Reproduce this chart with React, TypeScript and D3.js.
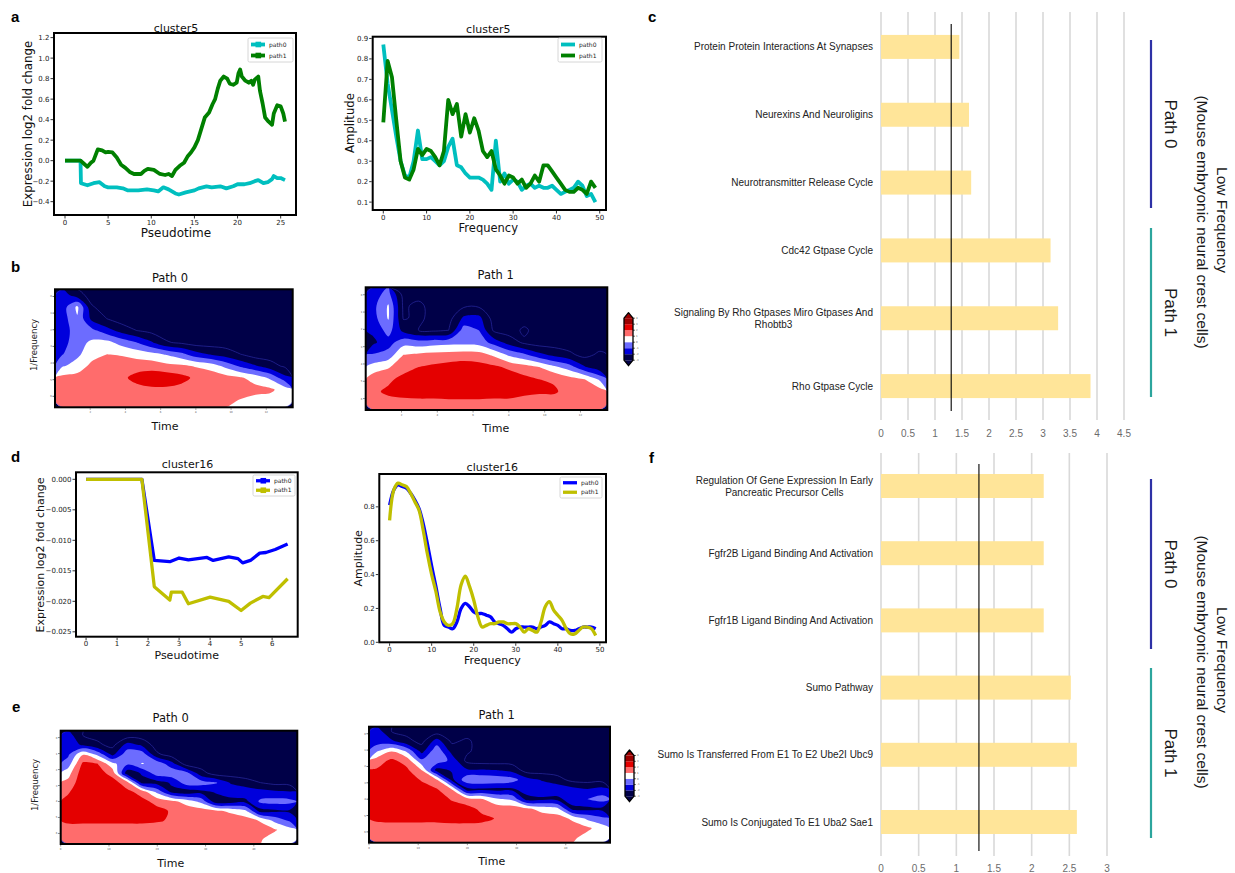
import React, { useEffect, useRef } from 'react';
import * as d3 from 'd3';

// ---------------- Panel a : cluster5 ----------------
const aTimePath0 = [0, 1, 1.8, 1.85, 2.6, 3.3, 4.0, 4.6, 5.0, 6.0, 6.7, 7.3, 8.5, 9.5, 10.3, 10.8, 11.4, 12.0, 12.4, 12.8, 13.2, 14.0, 15.0, 15.5, 16.4, 17.0, 18.0, 18.7, 19.5, 20.0, 20.8, 21.4, 22.0, 22.4, 23.0, 23.5, 24.0, 24.2, 24.6, 25.0, 25.5];
const aExprPath0 = [0, 0, 0, -0.22, -0.24, -0.22, -0.21, -0.25, -0.26, -0.26, -0.27, -0.29, -0.29, -0.28, -0.29, -0.3, -0.26, -0.28, -0.3, -0.32, -0.33, -0.31, -0.29, -0.27, -0.25, -0.26, -0.25, -0.27, -0.25, -0.23, -0.23, -0.22, -0.2, -0.19, -0.22, -0.21, -0.18, -0.15, -0.17, -0.17, -0.19];
const aTimePath1 = [0, 0.5, 1, 1.5, 1.8, 2.2, 2.6, 3.0, 3.3, 3.8, 4.3, 4.7, 5.0, 5.5, 6.0, 6.5, 7.0, 7.5, 8.0, 8.8, 9.2, 9.6, 10.3, 11.0, 11.6, 12.0, 12.4, 12.8, 13.3, 13.8, 14.2, 14.6, 15.0, 15.4, 15.8, 16.2, 16.7, 17.1, 17.4, 17.7, 18.0, 18.4, 18.8, 19.1, 19.5, 19.9, 20.1, 20.3, 20.5, 20.9, 21.3, 21.6, 21.8, 22.0, 22.4, 22.6, 22.9, 23.2, 23.6, 24.0, 24.2, 24.6, 25.0, 25.3, 25.5];
const aExprPath1 = [0, 0, 0, 0, 0, -0.03, -0.06, -0.02, 0.0, 0.11, 0.1, 0.08, 0.085, 0.08, 0.03, -0.04, -0.07, -0.11, -0.13, -0.13, -0.1, -0.08, -0.09, -0.13, -0.14, -0.13, -0.15, -0.09, -0.05, -0.02, 0.04, 0.08, 0.13, 0.2, 0.31, 0.42, 0.47, 0.55, 0.6, 0.7, 0.78, 0.82, 0.8, 0.75, 0.74, 0.76, 0.85, 0.89, 0.82, 0.78, 0.76, 0.78, 0.74, 0.79, 0.82, 0.68, 0.56, 0.42, 0.38, 0.35, 0.46, 0.54, 0.53, 0.46, 0.38];
const freqBins = d3.range(0, 50);
const aAmpPath0 = [0.87, 0.68, 0.55, 0.42, 0.3, 0.23, 0.22, 0.3, 0.45, 0.31, 0.31, 0.32, 0.3, 0.28, 0.3, 0.37, 0.41, 0.28, 0.27, 0.24, 0.22, 0.22, 0.22, 0.21, 0.19, 0.16, 0.4, 0.2, 0.24, 0.19, 0.21, 0.2, 0.16, 0.18, 0.19, 0.17, 0.18, 0.17, 0.17, 0.18, 0.16, 0.14, 0.15, 0.16, 0.17, 0.2, 0.18, 0.13, 0.14, 0.1];
const aAmpPath1 = [0.49, 0.79, 0.71, 0.5, 0.3, 0.22, 0.21, 0.26, 0.36, 0.33, 0.36, 0.35, 0.32, 0.28, 0.35, 0.6, 0.53, 0.58, 0.42, 0.53, 0.44, 0.51, 0.45, 0.35, 0.32, 0.35, 0.26, 0.23, 0.19, 0.23, 0.22, 0.19, 0.21, 0.17, 0.19, 0.23, 0.2, 0.28, 0.28, 0.25, 0.22, 0.19, 0.16, 0.15, 0.15, 0.17, 0.16, 0.14, 0.2, 0.17];

// ---------------- Panel d : cluster16 ----------------
const dTimePath0 = [0, 0.3, 0.6, 0.9, 1.2, 1.5, 1.8, 2.2, 2.7, 3.0, 3.3, 3.9, 4.1, 4.6, 4.9, 5.05, 5.3, 5.6, 5.8, 6.1, 6.5];
const dExprPath0 = [0, 0, 0, 0, 0, 0, 0, -0.0133, -0.0135, -0.0129, -0.0132, -0.0128, -0.0133, -0.0127, -0.013, -0.0137, -0.0133, -0.0121, -0.012, -0.0115, -0.0106];
const dTimePath1 = [0, 0.3, 0.6, 0.9, 1.2, 1.5, 1.8, 2.2, 2.7, 2.75, 3.1, 3.3, 4.0, 4.6, 5.0, 5.3, 5.7, 5.9, 6.5];
const dExprPath1 = [0, 0, 0, 0, 0, 0, 0, -0.0176, -0.0198, -0.0185, -0.0185, -0.0204, -0.0193, -0.02, -0.0215, -0.0203, -0.0192, -0.0194, -0.0163];
const dAmpPath0 = [0.81, 0.9, 0.93, 0.92, 0.91, 0.88, 0.84, 0.79, 0.7, 0.58, 0.45, 0.33, 0.2, 0.1, 0.09, 0.08, 0.12, 0.2, 0.23, 0.21, 0.18, 0.17, 0.17, 0.16, 0.15, 0.12, 0.11, 0.1, 0.08, 0.06, 0.08, 0.09, 0.09, 0.09, 0.09, 0.08, 0.09, 0.1, 0.12, 0.11, 0.1, 0.08, 0.08, 0.07, 0.07, 0.08, 0.09, 0.09, 0.09, 0.08];
const dAmpPath1 = [0.72, 0.9, 0.94, 0.93, 0.92, 0.88, 0.83, 0.78, 0.66, 0.52, 0.4, 0.3, 0.18, 0.12, 0.1, 0.11, 0.2, 0.34, 0.39, 0.33, 0.25, 0.15, 0.09, 0.1, 0.11, 0.11, 0.12, 0.12, 0.11, 0.11, 0.11, 0.09, 0.06, 0.08, 0.07, 0.06, 0.12, 0.21, 0.24, 0.19, 0.16, 0.13, 0.08, 0.05, 0.05, 0.07, 0.09, 0.09, 0.08, 0.04];

// ---------------- Wavelet power grids (one array per time column, top -> bottom) ----------------
const bPath0Cols = [
  [-1.5, -1.5, -1.5, -1.5, -1.4, -1.05, -0.1, 1.3, 1.6, 1.5],
  [-2.5, 0.2, -0.1, -0.5, -0.4, -0.2, 0.4, 1.4, 1.6, 1.5],
  [-3.5, -2.9, -2.3, -0.7, 0.2, 0.6, 1.3, 1.6, 1.6, 1.5],
  [-3.5, -3.5, -3.0, -1.6, 0.3, 1.0, 1.5, 1.7, 1.6, 1.5],
  [-3.5, -3.5, -3.5, -2.4, -0.4, 0.9, 1.6, 1.8, 1.6, 1.5],
  [-3.5, -3.5, -3.5, -3.0, -1.0, 0.6, 1.6, 2.3, 1.7, 1.5],
  [-3.5, -3.5, -3.5, -3.3, -1.9, 0.3, 1.6, 2.6, 1.8, 1.5],
  [-3.5, -3.5, -3.5, -3.5, -2.9, -0.1, 1.3, 2.6, 1.8, 1.5],
  [-3.5, -3.5, -3.5, -3.5, -3.2, -0.7, 1.2, 2.3, 1.7, 1.5],
  [-3.5, -3.5, -3.5, -3.5, -3.5, -1.6, 0.9, 1.8, 1.7, 1.4],
  [-3.5, -3.5, -3.5, -3.5, -3.5, -2.1, 0.6, 1.6, 1.6, 1.3],
  [-3.5, -3.5, -3.5, -3.5, -3.5, -2.5, -0.3, 1.4, 1.5, 1.2],
  [-3.5, -3.5, -3.5, -3.5, -3.5, -3.0, -1.2, 1.1, 1.4, 0.9],
  [-3.5, -3.5, -3.5, -3.5, -3.5, -3.5, -1.9, 0.6, 1.3, 0.6],
  [-3.5, -3.5, -3.5, -3.5, -3.5, -3.5, -2.6, -0.2, 1.2, 0.5],
  [-3.5, -3.5, -3.5, -3.5, -3.5, -3.5, -3.2, -1.7, 0.5, 0.5],
];
const bPath1Cols = [
  [-1.4, -1.3, -1.4, -1.8, -2.2, -0.9, 0.4, 1.6, 1.8, 1.6],
  [-0.7, 0.1, 0.1, -0.6, -1.4, -0.6, 0.9, 1.8, 2.2, 1.6],
  [-3.5, -3.2, -3.1, -2.3, -0.4, 1.0, 1.6, 2.3, 2.3, 1.7],
  [-3.5, -2.7, -2.8, -3.0, -0.6, 1.2, 2.0, 2.6, 2.4, 1.7],
  [-3.5, -3.5, -3.3, -3.2, -0.4, 1.3, 2.2, 2.8, 2.4, 1.7],
  [-3.5, -3.5, -3.4, -3.0, -0.3, 1.4, 2.4, 2.9, 2.5, 1.7],
  [-3.5, -3.2, -1.8, -0.5, -0.3, 1.5, 2.5, 2.9, 2.5, 1.7],
  [-3.5, -3.2, -1.7, -1.0, -0.4, 1.4, 2.4, 2.9, 2.5, 1.7],
  [-3.5, -3.5, -3.5, -3.2, -1.4, 0.8, 2.2, 2.8, 2.4, 1.7],
  [-3.5, -3.5, -3.5, -3.5, -2.4, -0.2, 1.8, 2.6, 2.4, 1.7],
  [-3.5, -3.5, -3.5, -2.8, -3.2, -0.8, 1.4, 2.3, 2.2, 1.6],
  [-3.5, -3.5, -3.5, -3.5, -3.5, -1.7, 1.0, 2.0, 2.1, 1.6],
  [-3.5, -3.5, -3.5, -3.5, -3.5, -2.3, 0.2, 1.9, 2.1, 1.6],
  [-3.5, -3.5, -3.5, -3.5, -3.5, -2.8, -0.5, 1.4, 1.7, 1.6],
  [-3.5, -3.5, -3.5, -3.5, -3.5, -3.3, -1.9, 1.0, 1.6, 1.6],
  [-3.5, -3.5, -3.5, -3.5, -3.5, -2.8, -2.8, -0.2, 1.5, 1.6],
];
const ePath0Cols = [
  [-1.5, -1.6, -1.2, -0.5, 0.6, 1.3, 1.9, 2.3, 2.4, 2.2, 1.6, 1.5],
  [-3.0, -2.1, 0.9, 2.2, 2.6, 2.7, 2.7, 2.7, 2.6, 2.2, 1.6, 1.5],
  [-3.3, -2.8, -0.3, 2.0, 2.5, 2.7, 2.7, 2.7, 2.6, 2.2, 1.6, 1.5],
  [-3.5, -3.3, -2.3, 0.3, 1.6, 2.5, 2.7, 2.7, 2.6, 2.2, 1.6, 1.5],
  [-3.5, -1.6, -0.4, -0.8, -2.6, 1.4, 2.3, 2.6, 2.6, 2.2, 1.6, 1.5],
  [-3.5, -2.2, -0.4, 0.05, -1.9, -2.3, 1.6, 2.3, 2.5, 2.2, 1.6, 1.5],
  [-3.5, -3.5, -2.8, -0.3, -0.5, -2.4, -0.2, 1.7, 2.3, 2.1, 1.6, 1.5],
  [-3.5, -3.5, -3.5, -1.6, -0.3, -1.9, -2.2, 1.3, 1.9, 1.9, 1.6, 1.5],
  [-3.5, -3.5, -3.5, -3.5, -0.6, -0.5, -2.6, 0.6, 1.6, 1.7, 1.6, 1.5],
  [-3.5, -3.5, -3.5, -3.5, -2.6, -0.5, -2.3, -0.3, 1.5, 1.7, 1.6, 1.5],
  [-3.5, -3.5, -3.5, -3.5, -3.5, -0.9, -1.9, -2.6, 1.2, 1.6, 1.6, 1.5],
  [-3.5, -3.5, -3.5, -3.5, -3.5, -2.1, -1.3, -2.5, 0.8, 1.6, 1.6, 1.5],
  [-3.5, -3.5, -3.5, -3.5, -3.5, -2.6, -1.3, -2.3, 0.2, 1.5, 1.6, 1.4],
  [-3.5, -3.5, -3.5, -3.5, -3.5, -3.0, -1.6, -0.8, -2.4, 0.9, 1.5, 1.1],
  [-3.5, -3.5, -3.5, -3.5, -3.5, -3.3, -1.8, -0.6, -2.2, -0.3, 1.1, 0.5],
  [-3.5, -3.5, -3.5, -3.5, -3.5, -3.4, -1.9, -0.7, -2.2, -1.2, 0.4, 0.4],
];
const ePath1Cols = [
  [-1.4, -1.5, -0.2, 1.5, 2.1, 2.5, 2.6, 2.6, 2.5, 2.2, 1.6, 1.5],
  [-3.0, -1.8, 0.9, 2.2, 2.6, 2.7, 2.7, 2.7, 2.6, 2.2, 1.7, 1.5],
  [-3.3, -2.7, -0.2, 1.6, 2.2, 2.6, 2.7, 2.7, 2.6, 2.2, 1.7, 1.5],
  [-3.5, -3.3, -2.4, -0.8, 1.0, 1.9, 2.5, 2.6, 2.6, 2.2, 1.7, 1.5],
  [-3.5, -1.5, -0.3, -0.3, -2.4, 1.1, 2.1, 2.6, 2.6, 2.2, 1.7, 1.5],
  [-3.5, -3.2, -2.4, -1.3, -1.9, -2.3, 1.0, 1.9, 2.5, 2.3, 1.7, 1.5],
  [-3.5, -2.8, -2.8, -3.3, -1.8, -0.3, -2.4, 1.5, 2.3, 2.3, 1.7, 1.5],
  [-3.5, -3.5, -3.5, -3.5, -1.9, -0.2, -2.2, 1.1, 1.8, 2.2, 1.7, 1.5],
  [-3.5, -3.5, -3.5, -3.5, -2.0, -0.3, -2.3, 0.2, 1.6, 1.95, 1.7, 1.5],
  [-3.5, -3.5, -3.5, -3.5, -2.3, -0.6, -2.2, -0.2, 1.6, 1.7, 1.7, 1.5],
  [-3.5, -3.5, -3.5, -3.5, -3.5, -1.6, -1.5, -2.4, 1.2, 1.7, 1.7, 1.5],
  [-3.5, -3.5, -3.5, -3.5, -3.5, -2.1, -1.3, -2.2, 0.6, 1.6, 1.7, 1.5],
  [-3.5, -3.5, -3.5, -3.5, -3.5, -2.6, -1.3, -2.3, 0.3, 1.5, 1.7, 1.4],
  [-3.5, -3.5, -3.5, -3.5, -3.5, -3.3, -1.6, -1.5, -2.3, 0.8, 1.6, 1.2],
  [-3.5, -3.5, -3.5, -3.5, -3.5, -3.4, -1.9, -1.0, -2.3, -0.2, 1.2, 0.6],
  [-3.5, -3.5, -3.5, -3.5, -3.5, -3.4, -1.6, -0.6, -2.3, -0.8, 0.5, 0.4],
];
const bTimeTicks = [2, 4, 6, 8, 10, 12];
const eTimeTicks = [0, 10, 20, 30, 40];
const hmScaleTicks = [0, 1, 2, 3, 4, 5, 6];
const cbBounds = [-3, -2, -1, 0, 1, 2, 3, 4];

// ---------------- Panels c and f : enrichment ----------------
const cTerms = [
  ['Protein Protein Interactions At Synapses'],
  ['Neurexins And Neuroligins'],
  ['Neurotransmitter Release Cycle'],
  ['Cdc42 Gtpase Cycle'],
  ['Signaling By Rho Gtpases Miro Gtpases And', 'Rhobtb3'],
  ['Rho Gtpase Cycle'],
];
const cScores = [1.45, 1.63, 1.67, 3.14, 3.28, 3.88];
const cTicks = [0, 0.5, 1, 1.5, 2, 2.5, 3, 3.5, 4, 4.5];
const fTerms = [
  ['Regulation Of Gene Expression In Early', 'Pancreatic Precursor Cells'],
  ['Fgfr2B Ligand Binding And Activation'],
  ['Fgfr1B Ligand Binding And Activation'],
  ['Sumo Pathway'],
  ['Sumo Is Transferred From E1 To E2 Ube2I Ubc9'],
  ['Sumo Is Conjugated To E1 Uba2 Sae1'],
];
const fScores = [2.16, 2.16, 2.16, 2.52, 2.6, 2.6];
const fTicks = [0, 0.5, 1, 1.5, 2, 2.5, 3];
const sigThreshold = 1.3;

// ---------------- styles ----------------
const MPL = "'DejaVu Sans', Verdana, sans-serif";
const SANS = "'Liberation Sans', Arial, Helvetica, sans-serif";
const NAVY = '#000048', BLUE = '#0000dc', LBLUE = '#6c6cff', WHITE = '#ffffff', LRED = '#ff6c6c', RED = '#e40000', DRED = '#9c0000';
const HM_LEVELS = [-2, -1, 0, 1, 2, 3];
const HM_COLORS = [BLUE, LBLUE, WHITE, LRED, RED, DRED];
const HM_LINE_LEVELS = [-3];
const CB_COLORS = [NAVY, BLUE, LBLUE, WHITE, LRED, RED, DRED];

function txt(g: any, x: number, y: number, s: string, size: number, fam: string, anchor = 'start', fill = '#111', weight = 'normal') {
  return g.append('text').attr('x', x).attr('y', y).attr('font-size', size).attr('font-family', fam)
    .attr('text-anchor', anchor).attr('fill', fill).attr('font-weight', weight).text(s);
}

function lineChart(root: any, c: any) {
  const x = d3.scaleLinear().domain(c.xDomain).range([c.left, c.right]);
  const y = d3.scaleLinear().domain(c.yDomain).range([c.bottom, c.top]);
  const g = root.append('g');
  const clip = 'clip-' + c.id;
  g.append('clipPath').attr('id', clip).append('rect')
    .attr('x', c.left).attr('y', c.top).attr('width', c.right - c.left).attr('height', c.bottom - c.top);
  const pg = g.append('g').attr('clip-path', `url(#${clip})`);
  const line = d3.line<any>().x((d: any) => x(d[0])).y((d: any) => y(d[1])).curve(c.curve || d3.curveLinear);
  c.series.forEach((s: any) => {
    const pts = s.x.map((v: number, i: number) => [v, s.y[i]]);
    pg.append('path').attr('d', line(pts)).attr('fill', 'none').attr('stroke', s.color)
      .attr('stroke-width', c.lw).attr('stroke-linejoin', 'round');
  });
  c.xTicks.forEach((t: number) => {
    g.append('line').attr('x1', x(t)).attr('x2', x(t)).attr('y1', c.bottom + 1).attr('y2', c.bottom + 3.5)
      .attr('stroke', '#000').attr('stroke-width', 0.8);
    txt(g, x(t), c.bottom + 9.5, c.xFmt(t), 7, MPL, 'middle', '#222');
  });
  c.yTicks.forEach((t: number) => {
    g.append('line').attr('x1', c.left - 3.5).attr('x2', c.left - 1).attr('y1', y(t)).attr('y2', y(t))
      .attr('stroke', '#000').attr('stroke-width', 0.8);
    txt(g, c.left - 4.5, y(t) + 2.5, c.yFmt(t), 7, MPL, 'end', '#222');
  });
  g.append('rect').attr('x', c.left).attr('y', c.top).attr('width', c.right - c.left).attr('height', c.bottom - c.top)
    .attr('fill', 'none').attr('stroke', '#000').attr('stroke-width', 2);
  txt(g, c.titleX, c.titleY, c.title, 11, MPL, 'middle', '#111');
  txt(g, c.xLabelX, c.xLabelY, c.xLabel, c.labelSize, MPL, 'middle', '#111');
  g.append('text').attr('transform', `translate(${c.yLabelX},${c.yLabelY}) rotate(-90)`)
    .attr('text-anchor', 'middle').attr('dominant-baseline', 'central').attr('font-family', MPL)
    .attr('font-size', c.yLabelSize).attr('fill', '#111').text(c.yLabel);
  const L = c.legend;
  g.append('rect').attr('x', L.x).attr('y', L.y).attr('width', L.w).attr('height', L.h).attr('rx', 1.5)
    .attr('fill', '#fff').attr('fill-opacity', 0.85).attr('stroke', '#cccccc').attr('stroke-width', 0.8);
  const rowH = (L.h - 2) / c.series.length;
  c.series.forEach((s: any, i: number) => {
    const yy = L.y + 1 + rowH * (i + 0.5);
    g.append('line').attr('x1', L.x + 3).attr('x2', L.x + 17).attr('y1', yy).attr('y2', yy)
      .attr('stroke', s.color).attr('stroke-width', c.lw);
    if (L.marker) g.append('rect').attr('x', L.x + 7.5).attr('y', yy - 2.8).attr('width', 5.6).attr('height', 5.6).attr('fill', s.color);
    txt(g, L.x + 21, yy + 2.2, s.name, 6, MPL, 'start', '#222');
  });
}

const ringLine = d3.line<any>().curve(d3.curveCatmullRomClosed.alpha(0.5));
function contourD(ct: any, sx: any, sy: any) {
  let d = '';
  ct.coordinates.forEach((poly: any) => poly.forEach((ring: any) => {
    const pts = ring.slice(0, -1).map((p: number[]) => [sx(p[0]), sy(p[1])]);
    if (pts.length > 2) d += ringLine(pts) || '';
  }));
  return d;
}

function heatmap(root: any, c: any) {
  const cols = c.cols.length, rows = c.cols[0].length;
  const values: number[] = new Array(cols * rows);
  for (let j = 0; j < rows; j++) for (let i = 0; i < cols; i++) values[j * cols + i] = c.cols[i][j];
  const sx = d3.scaleLinear().domain([0, cols]).range([c.left, c.right]);
  const sy = d3.scaleLinear().domain([0, rows]).range([c.top, c.bottom]);
  const g = root.append('g');
  const clip = 'hclip-' + c.id;
  g.append('clipPath').attr('id', clip).append('rect')
    .attr('x', c.left).attr('y', c.top).attr('width', c.right - c.left).attr('height', c.bottom - c.top);
  const hg = g.append('g').attr('clip-path', `url(#${clip})`);
  hg.append('rect').attr('x', c.left).attr('y', c.top).attr('width', c.right - c.left).attr('height', c.bottom - c.top).attr('fill', NAVY);
  const fills = d3.contours().size([cols, rows]).thresholds(HM_LEVELS)(values);
  fills.forEach((ct: any, k: number) => {
    hg.append('path').attr('d', contourD(ct, sx, sy)).attr('fill', HM_COLORS[k]).attr('fill-rule', 'evenodd');
  });
  const lines = d3.contours().size([cols, rows]).thresholds(HM_LINE_LEVELS)(values);
  lines.forEach((ct: any) => {
    hg.append('path').attr('d', contourD(ct, sx, sy)).attr('fill', 'none').attr('stroke', '#3a3ac4')
      .attr('stroke-width', 0.6).attr('stroke-opacity', 0.85);
  });
  const tx = d3.scaleLinear().domain(c.xDomain).range([c.left, c.right]);
  const ty = d3.scaleLinear().domain([-0.43, 6.66]).range([c.top, c.bottom]);
  c.xTicks.forEach((t: number) => {
    g.append('line').attr('x1', tx(t)).attr('x2', tx(t)).attr('y1', c.bottom + 1).attr('y2', c.bottom + 2.5).attr('stroke', '#333').attr('stroke-width', 0.5);
    txt(g, tx(t), c.bottom + 6, String(t), 2.6, MPL, 'middle', '#555');
  });
  hmScaleTicks.forEach((t: number) => {
    g.append('line').attr('x1', c.left - 2.5).attr('x2', c.left - 1).attr('y1', ty(t)).attr('y2', ty(t)).attr('stroke', '#333').attr('stroke-width', 0.7);
    txt(g, c.left - 3.2, ty(t) + 1, String(t), 2.6, MPL, 'end', '#555');
  });
  g.append('rect').attr('x', c.left).attr('y', c.top).attr('width', c.right - c.left).attr('height', c.bottom - c.top)
    .attr('fill', 'none').attr('stroke', '#000').attr('stroke-width', 2);
  txt(g, c.titleX, c.titleY, c.title, 11.5, MPL, 'middle', '#111');
  txt(g, c.timeX, c.timeY, 'Time', 11, MPL, 'middle', '#111');
  if (c.yLabel) {
    g.append('text').attr('transform', `translate(${c.yLabelX},${c.yLabelY}) rotate(-90)`)
      .attr('text-anchor', 'middle').attr('dominant-baseline', 'central').attr('font-family', MPL)
      .attr('font-size', 8.5).attr('fill', '#222').text('1/Frequency');
  }
}

function colorbar(root: any, x: number, top: number, bottom: number, w: number) {
  const g = root.append('g');
  const tri = 5.5;
  const y = d3.scaleLinear().domain([cbBounds[0], cbBounds[cbBounds.length - 1]]).range([bottom - tri, top + tri]);
  for (let i = 0; i < cbBounds.length - 1; i++) {
    g.append('rect').attr('x', x).attr('y', y(cbBounds[i + 1])).attr('width', w)
      .attr('height', y(cbBounds[i]) - y(cbBounds[i + 1])).attr('fill', CB_COLORS[i]);
  }
  g.append('path').attr('d', `M${x},${top + tri}L${x + w / 2},${top}L${x + w},${top + tri}Z`).attr('fill', DRED);
  g.append('path').attr('d', `M${x},${bottom - tri}L${x + w / 2},${bottom}L${x + w},${bottom - tri}Z`).attr('fill', NAVY);
  g.append('path').attr('d', `M${x},${top + tri}L${x + w / 2},${top}L${x + w},${top + tri}L${x + w},${bottom - tri}L${x + w / 2},${bottom}L${x},${bottom - tri}Z`)
    .attr('fill', 'none').attr('stroke', '#000').attr('stroke-width', 1.3).attr('stroke-linejoin', 'round');
  cbBounds.forEach((b) => {
    g.append('line').attr('x1', x + w).attr('x2', x + w + 1.8).attr('y1', y(b)).attr('y2', y(b)).attr('stroke', '#000').attr('stroke-width', 0.7);
    txt(g, x + w + 3, y(b) + 0.9, String(b), 2.6, MPL, 'start', '#555');
  });
}

function barChart(root: any, c: any) {
  const g = root.append('g');
  const x = d3.scaleLinear().domain([0, c.ticks[c.ticks.length - 1]]).range([c.x0, c.x1]);
  const keys = c.terms.map((_: any, i: number) => String(i));
  const y = d3.scalePoint().domain(keys).range([c.yTop, c.yBot]).padding(0.5);
  c.ticks.forEach((t: number) => {
    g.append('line').attr('x1', x(t)).attr('x2', x(t)).attr('y1', c.gridTop).attr('y2', c.gridBot)
      .attr('stroke', '#d9d9d9').attr('stroke-width', 1.6);
    txt(g, x(t), c.tickY, String(t), 10, SANS, 'middle', '#6b6b6b');
  });
  c.scores.forEach((v: number, i: number) => {
    const cy = y(String(i)) as number;
    g.append('rect').attr('x', x(0)).attr('y', cy - 12).attr('width', x(v) - x(0)).attr('height', 24).attr('fill', '#ffe599');
    const lines = c.terms[i];
    if (lines.length === 1) {
      txt(g, c.labelX, cy + 3.5, lines[0], 10, SANS, 'end', '#222');
    } else {
      const t1 = txt(g, c.labelX, cy - 6 + 3.5, lines[0], 10, SANS, 'end', '#222');
      const w1 = (t1.node() as any).getComputedTextLength();
      txt(g, c.labelX - w1 / 2, cy + 6 + 3.5, lines[1], 10, SANS, 'middle', '#222');
    }
  });
  g.append('line').attr('x1', x(sigThreshold)).attr('x2', x(sigThreshold)).attr('y1', c.thrTop).attr('y2', c.thrBot)
    .attr('stroke', '#000').attr('stroke-width', 1.1);
  const a = c.annot;
  g.append('line').attr('x1', a.lineX).attr('x2', a.lineX).attr('y1', a.p0[0]).attr('y2', a.p0[1]).attr('stroke', '#2e31a6').attr('stroke-width', 2.2);
  g.append('line').attr('x1', a.lineX).attr('x2', a.lineX).attr('y1', a.p1[0]).attr('y2', a.p1[1]).attr('stroke', '#2ca59d').attr('stroke-width', 2.2);
  const rot = (xx: number, yy: number, s: string, size: number) =>
    g.append('text').attr('transform', `translate(${xx},${yy}) rotate(90)`).attr('text-anchor', 'middle')
      .attr('dominant-baseline', 'central').attr('font-family', SANS).attr('font-size', size).attr('fill', '#1a1a1a').text(s);
  rot(a.pathX, (a.p0[0] + a.p0[1]) / 2, 'Path 0', 17);
  rot(a.pathX, (a.p1[0] + a.p1[1]) / 2, 'Path 1', 17);
  rot(a.titleX1, a.titleY, 'Low Frequency', 15.5);
  rot(a.titleX2, a.titleY + 2, '(Mouse embryonic neural crest cells)', 15.5);
}

function draw(svg: any) {
  svg.append('rect').attr('width', 1235).attr('height', 873).attr('fill', '#fff');
  const f1 = d3.format('.1f');
  const fd = d3.format('d');
  const f3 = d3.format('.3f');

  lineChart(svg, {
    id: 'a1', left: 54, right: 296, top: 33, bottom: 215, xDomain: [-1.275, 26.775], yDomain: [-0.53, 1.245],
    xTicks: [0, 5, 10, 15, 20, 25], yTicks: [-0.4, -0.2, 0, 0.2, 0.4, 0.6, 0.8, 1.0, 1.2], xFmt: fd, yFmt: f1,
    series: [
      { name: 'path0', x: aTimePath0, y: aExprPath0, color: '#00bfbf' },
      { name: 'path1', x: aTimePath1, y: aExprPath1, color: '#008000' },
    ], lw: 3.8,
    title: 'cluster5', titleX: 176, titleY: 31.5, xLabel: 'Pseudotime', xLabelX: 176, xLabelY: 237, labelSize: 12,
    yLabel: 'Expression log2 fold change', yLabelX: 28, yLabelY: 124, yLabelSize: 11.8,
    legend: { x: 248, y: 38, w: 45, h: 24, marker: true },
  });
  lineChart(svg, {
    id: 'a2', left: 372.7, right: 606, top: 36.7, bottom: 210, xDomain: [-2.45, 51.45], yDomain: [0.0615, 0.9085],
    xTicks: [0, 10, 20, 30, 40, 50], yTicks: [0.1, 0.2, 0.3, 0.4, 0.5, 0.6, 0.7, 0.8, 0.9], xFmt: fd, yFmt: f1,
    series: [
      { name: 'path0', x: freqBins, y: aAmpPath0, color: '#00bfbf' },
      { name: 'path1', x: freqBins, y: aAmpPath1, color: '#008000' },
    ], lw: 3.8,
    title: 'cluster5', titleX: 488.3, titleY: 33.3, xLabel: 'Frequency', xLabelX: 488.3, xLabelY: 232, labelSize: 11.5,
    yLabel: 'Amplitude', yLabelX: 350, yLabelY: 123, yLabelSize: 11.7,
    legend: { x: 558, y: 38, w: 44, h: 24, marker: false },
  });
  lineChart(svg, {
    id: 'd1', left: 76, right: 297.7, top: 472.3, bottom: 636.7, xDomain: [-0.325, 6.825], yDomain: [-0.0258, 0.00115],
    xTicks: [0, 1, 2, 3, 4, 5, 6], yTicks: [-0.025, -0.02, -0.015, -0.01, -0.005, 0], xFmt: fd, yFmt: f3,
    series: [
      { name: 'path0', x: dTimePath0, y: dExprPath0, color: '#0000ff' },
      { name: 'path1', x: dTimePath1, y: dExprPath1, color: '#bfbf00' },
    ], lw: 3.3,
    title: 'cluster16', titleX: 187.5, titleY: 468.3, xLabel: 'Pseudotime', xLabelX: 186.7, xLabelY: 658.5, labelSize: 11,
    yLabel: 'Expression log2 fold change', yLabelX: 40.7, yLabelY: 555, yLabelSize: 11,
    legend: { x: 253, y: 475, w: 42, h: 21, marker: true },
  });
  lineChart(svg, {
    id: 'd2', left: 379.3, right: 606, top: 474, bottom: 642.3, xDomain: [-2.45, 51.45], yDomain: [0, 0.994],
    xTicks: [0, 10, 20, 30, 40, 50], yTicks: [0, 0.2, 0.4, 0.6, 0.8], xFmt: fd, yFmt: f1,
    series: [
      { name: 'path0', x: freqBins, y: dAmpPath0, color: '#0000ff' },
      { name: 'path1', x: freqBins, y: dAmpPath1, color: '#bfbf00' },
    ], lw: 3.3, curve: d3.curveCatmullRom.alpha(0.5),
    title: 'cluster16', titleX: 492.3, titleY: 470.7, xLabel: 'Frequency', xLabelX: 492.3, xLabelY: 663.5, labelSize: 11,
    yLabel: 'Amplitude', yLabelX: 358.3, yLabelY: 558.3, yLabelSize: 11,
    legend: { x: 560, y: 477, w: 42, h: 21, marker: false },
  });

  heatmap(svg, { id: 'b0', cols: bPath0Cols, left: 55, right: 292.7, top: 289.3, bottom: 407.3, xDomain: [0, 13.5], xTicks: bTimeTicks,
    title: 'Path 0', titleX: 170, titleY: 281.7, timeX: 165, timeY: 429.5, yLabel: true, yLabelX: 34.3, yLabelY: 345 });
  heatmap(svg, { id: 'b1', cols: bPath1Cols, left: 365.7, right: 607.3, top: 287.3, bottom: 410, xDomain: [0, 13.5], xTicks: bTimeTicks,
    title: 'Path 1', titleX: 495.7, titleY: 279.3, timeX: 495.7, timeY: 431.7, yLabel: false });
  heatmap(svg, { id: 'e0', cols: ePath0Cols, left: 60.7, right: 297.3, top: 730.7, bottom: 844, xDomain: [0, 49], xTicks: eTimeTicks,
    title: 'Path 0', titleX: 170.7, titleY: 722.3, timeX: 170.7, timeY: 866.7, yLabel: true, yLabelX: 35, yLabelY: 785 });
  heatmap(svg, { id: 'e1', cols: ePath1Cols, left: 369, right: 610, top: 726.7, bottom: 842.7, xDomain: [0, 49], xTicks: eTimeTicks,
    title: 'Path 1', titleX: 496.7, titleY: 719.3, timeX: 491.7, timeY: 864.7, yLabel: false });
  colorbar(svg, 624, 312.7, 365.7, 9);
  colorbar(svg, 625, 750, 801.7, 9);

  barChart(svg, {
    terms: cTerms, scores: cScores, ticks: cTicks, x0: 881, x1: 1124, yTop: 13, yBot: 420,
    gridTop: 12, gridBot: 420, thrTop: 24, thrBot: 411, tickY: 436.5, labelX: 873,
    annot: { lineX: 1151, p0: [40, 208], p1: [228, 397], pathX: 1170, titleX1: 1222, titleX2: 1202, titleY: 220 },
  });
  barChart(svg, {
    terms: fTerms, scores: fScores, ticks: fTicks, x0: 881, x1: 1107, yTop: 452.4, yBot: 855.6,
    gridTop: 453, gridBot: 856, thrTop: 464, thrBot: 851, tickY: 871.5, labelX: 873,
    annot: { lineX: 1151, p0: [479, 649], p1: [668, 838], pathX: 1170, titleX1: 1222, titleX2: 1202, titleY: 660 },
  });

  const letters: [string, number, number][] = [['a', 11, 22], ['b', 11, 272], ['c', 648, 22], ['d', 11, 462], ['e', 12, 712], ['f', 649, 463]];
  letters.forEach(([s, x, y]) => txt(svg, x, y, s, 15, SANS, 'start', '#000', 'bold'));
}

export default function App() {
  const ref = useRef<SVGSVGElement>(null);
  useEffect(() => {
    const svg = d3.select(ref.current);
    svg.selectAll('*').remove();
    draw(svg);
  }, []);
  return (
    <svg ref={ref} width={1235} height={873} style={{ position: 'absolute', left: 0, top: 0, background: '#fff' }} />
  );
}
